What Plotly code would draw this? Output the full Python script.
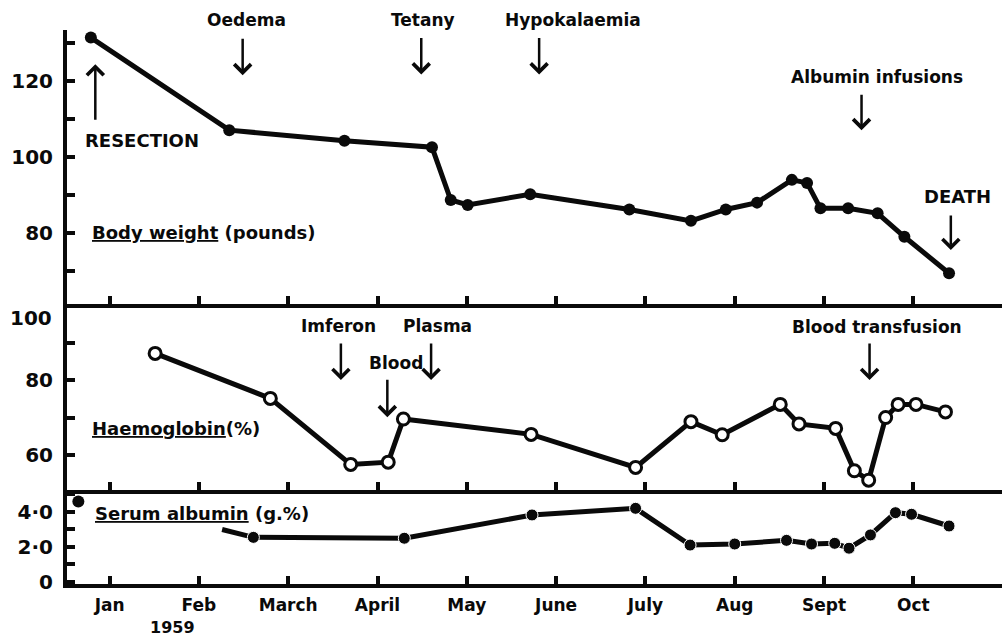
import plotly.graph_objects as go

# ---- data (time in months from January 1959) ----
months = ["Jan", "Feb", "March", "April", "May", "June", "July", "Aug", "Sept", "Oct"]
month_pos = list(range(10))

weight_t = [-0.21, 1.34, 2.63, 3.61, 3.82, 4.01, 4.71, 5.82, 6.51, 6.90,
            7.25, 7.64, 7.81, 7.96, 8.27, 8.60, 8.90, 9.40]
weight_lb = [131.4, 107.0, 104.2, 102.5, 88.6, 87.3, 90.1, 86.1, 83.1, 86.1,
             87.9, 93.9, 93.1, 86.4, 86.4, 85.1, 78.9, 69.3]

hb_t = [0.51, 1.80, 2.70, 3.12, 3.29, 4.72, 5.89, 6.51, 6.86, 7.51,
        7.72, 8.13, 8.34, 8.50, 8.69, 8.83, 9.03, 9.36]
hb_pct = [87.1, 75.1, 57.5, 58.1, 69.6, 65.5, 56.7, 68.9, 65.4, 73.5,
          68.3, 67.1, 55.8, 53.3, 70.0, 73.5, 73.5, 71.5]

alb_first_t = [-0.35]
alb_first_g = [4.6]
alb_t = [1.26, 1.61, 3.30, 4.73, 5.89, 6.50, 7.00, 7.58, 7.86, 8.12,
         8.28, 8.52, 8.80, 8.98, 9.40]
alb_g = [3.0, 2.55, 2.50, 3.83, 4.21, 2.11, 2.17, 2.38, 2.17, 2.21,
         1.93, 2.69, 3.96, 3.87, 3.20]

FONT = "DejaVu Sans"
INK = "#0a0a0a"

fig = go.Figure()
fig.add_trace(go.Scatter(x=weight_t, y=weight_lb, mode="lines+markers",
                         line=dict(color=INK, width=5),
                         marker=dict(size=12, color=INK, opacity=1),
                         xaxis="x", yaxis="y", cliponaxis=False))
fig.add_trace(go.Scatter(x=hb_t, y=hb_pct, mode="lines+markers",
                         line=dict(color=INK, width=5),
                         marker=dict(size=12, color="white", opacity=1,
                                     line=dict(color=INK, width=3)),
                         xaxis="x2", yaxis="y2", cliponaxis=False))
fig.add_trace(go.Scatter(x=alb_t, y=alb_g, mode="lines+markers",
                         line=dict(color=INK, width=5),
                         marker=dict(size=[0] + [12] * (len(alb_t) - 1), color=INK,
                                     opacity=1, sizemode="diameter"),
                         xaxis="x3", yaxis="y3", cliponaxis=False))
fig.add_trace(go.Scatter(x=alb_first_t, y=alb_first_g, mode="markers",
                         marker=dict(size=12, color=INK, opacity=1),
                         xaxis="x3", yaxis="y3", cliponaxis=False))

xr = [-0.477, 9.993]
common_x = dict(range=xr, showline=True, linewidth=4, linecolor=INK,
                ticks="inside", ticklen=8, tickwidth=4, tickcolor=INK,
                tickvals=month_pos, showgrid=False, zeroline=False)
common_y = dict(showline=True, linewidth=4, linecolor=INK,
                ticks="inside", ticklen=8, tickwidth=4, tickcolor=INK,
                showgrid=False, zeroline=False, ticklabelstandoff=6,
                tickfont=dict(family=FONT, size=20, color=INK, weight="bold"))

layout = dict(
    width=1002, height=639,
    margin=dict(l=67, r=0, t=30, b=55),
    paper_bgcolor="white", plot_bgcolor="white",
    showlegend=False,
    font=dict(family=FONT, color=INK),
    xaxis=dict(common_x, anchor="y", showticklabels=False),
    xaxis2=dict(common_x, anchor="y2", matches="x", showticklabels=False),
    xaxis3=dict(common_x, anchor="y3", matches="x", ticktext=months,
                ticklabelstandoff=3,
                tickfont=dict(family=FONT, size=17, color=INK, weight="bold")),
    yaxis=dict(common_y, domain=[0.5054, 1.0], range=[61.18, 133.4], anchor="x",
               tickvals=[80, 100, 120],
               minor=dict(tickvals=[70, 90, 110, 130], ticks="inside", ticklen=8,
                          tickwidth=4, tickcolor=INK)),
    yaxis2=dict(common_y, domain=[0.1697, 0.5054], range=[50.67, 100.27], anchor="x2",
                tickvals=[60, 80],
                minor=dict(tickvals=[70, 90], ticks="inside", ticklen=8,
                           tickwidth=4, tickcolor=INK)),
    yaxis3=dict(common_y, domain=[0.0, 0.1697], range=[-0.114, 5.257], anchor="x3",
                tickvals=[0, 2, 4], ticktext=["0", "2·0", "4·0"],
                minor=dict(tickvals=[1, 3, 5], ticks="inside", ticklen=8,
                           tickwidth=4, tickcolor=INK)),
)
fig.update_layout(layout)


def label(x, y, s, ax, size=17, xanchor="center", yref=None):
    return dict(x=x, y=y, xref=ax[0], yref=yref or ax[1], text=s, showarrow=False,
                xanchor=xanchor, yanchor="middle",
                font=dict(family=FONT, size=size, color=INK, weight="bold"))


def arrow(x, y, ay, ax):
    return dict(x=x, y=y, xref=ax[0], yref=ax[1], text="", showarrow=True,
                ax=0, ay=ay, arrowhead=4, arrowsize=1.3, arrowwidth=2.5,
                arrowcolor=INK, standoff=0, startstandoff=0)


TOP = ("x", "y")
MID = ("x2", "y2")
BOT = ("x3", "y3")

annotations = [
    label(1.53, 1.018, "Oedema", TOP, yref="paper"), arrow(1.49, 121.5, -38, TOP),
    label(3.51, 1.018, "Tetany", TOP, yref="paper"), arrow(3.49, 121.7, -38, TOP),
    label(5.19, 1.018, "Hypokalaemia", TOP, yref="paper"), arrow(4.81, 121.7, -38, TOP),
    label(0.36, 104.4, "RESECTION", TOP, size=18), arrow(-0.16, 124.4, 57, TOP),
    label(8.59, 121.0, "Albumin infusions", TOP), arrow(8.42, 107.0, -37, TOP),
    label(9.49, 89.6, "DEATH", TOP, size=18), arrow(9.42, 75.4, -36, TOP),
    label(-0.22, 79.9, "<u>Body weight</u> (pounds)", TOP, size=18, xanchor="left"),
    label(2.56, 94.4, "Imferon", MID), arrow(2.59, 80.0, -38, MID),
    label(3.67, 94.4, "Plasma", MID), arrow(3.60, 80.0, -38, MID),
    label(3.21, 84.5, "Blood", MID), arrow(3.11, 70.1, -39, MID),
    label(8.59, 94.1, "Blood transfusion", MID), arrow(8.51, 80.0, -38, MID),
    label(-0.22, 67.2, "<u>Haemoglobin</u>(%)", MID, size=18, xanchor="left"),
    label(-0.19, 3.94, "<u>Serum albumin</u> (g.%)", BOT, size=18, xanchor="left"),
    label(0.70, -0.079, "1959", BOT, size=16, yref="paper"),
    dict(x=0, y=96.5, xref="paper", yref="y2", text="100", showarrow=False,
         xanchor="right", yanchor="middle", xshift=-13,
         font=dict(family=FONT, size=20, color=INK, weight="bold")),
]
fig.update_layout(annotations=annotations)

fig.write_html(
    "out.html",
    config={"displayModeBar": False, "staticPlot": True},
    post_script="document.body.style.margin='0';document.body.style.overflow='hidden';",
)
